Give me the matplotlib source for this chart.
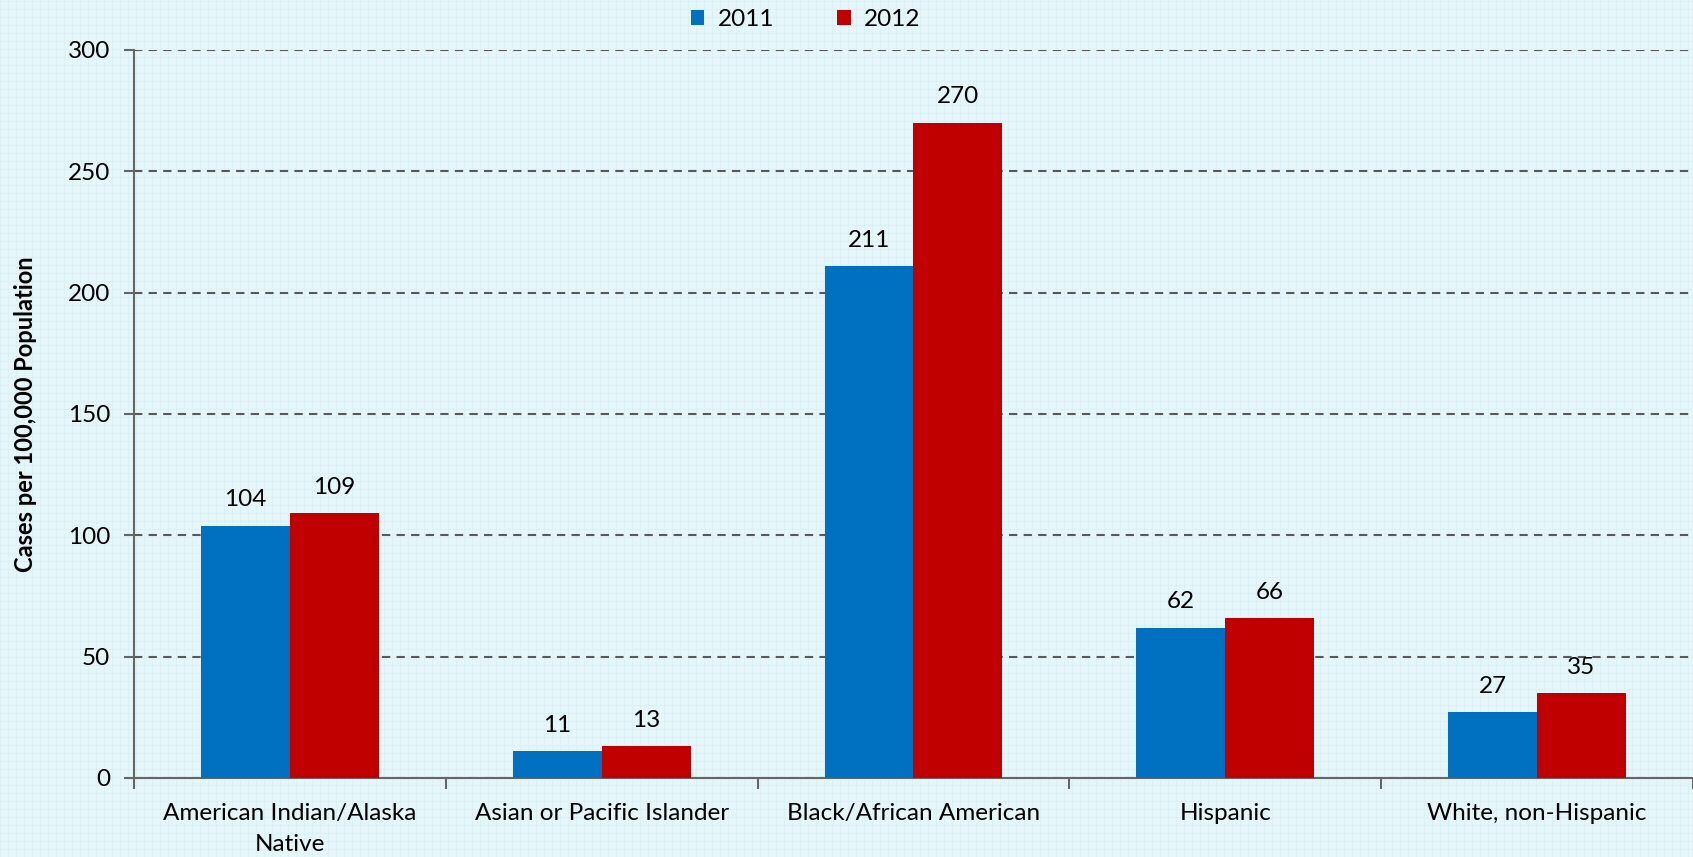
import numpy as np
import matplotlib
matplotlib.use("Agg")
import matplotlib.pyplot as plt
from matplotlib.lines import Line2D

plt.rcParams['font.family'] = ['Lato', 'DejaVu Sans']

categories = ["American Indian/Alaska\nNative", "Asian or Pacific Islander",
              "Black/African American", "Hispanic", "White, non-Hispanic"]
years = ["2011", "2012"]
values_2011 = [104, 11, 211, 62, 27]
values_2012 = [109, 13, 270, 66, 35]
colors = ["#0070c0", "#c00000"]

bg = "#e4f6fa"
fig = plt.figure(figsize=(16.93, 8.57), dpi=100, facecolor=bg)

# faint graph-paper background
for xv in np.arange(0, 1, 8 / 1693):
    fig.add_artist(Line2D([xv, xv], [0, 1], color="#d9f0f5", lw=0.5, zorder=-5))
for yv in np.arange(0, 1, 8 / 857):
    fig.add_artist(Line2D([0, 1], [yv, yv], color="#d9f0f5", lw=0.5, zorder=-5))

ax = fig.add_axes([0.0791, 0.0922, 0.9209, 0.8495])
ax.set_facecolor("none")

x = np.arange(len(categories))
w = 0.285
for i, (vals, c, lab) in enumerate(zip([values_2011, values_2012], colors, years)):
    xs = x + (i - 0.5) * w
    ax.bar(xs, vals, width=w, color=c, label=lab, zorder=3)
    for xi, v in zip(xs, vals):
        ax.annotate(str(v), (xi, v), xytext=(0, 11), textcoords="offset points",
                    ha="center", va="bottom", fontsize=17.5, color="black")

ax.set_xlim(-0.5, len(categories) - 0.5)
ax.set_ylim(0, 300)
ax.set_yticks(np.arange(0, 301, 50))
ax.yaxis.grid(True, linestyle=(0, (4, 3)), color="#595959", lw=1.5, zorder=0)
ax.set_axisbelow(True)

ax.set_xticks(x)
ax.set_xticklabels(categories, fontsize=17.5, linespacing=1.6)
ax.set_xticks(np.arange(-0.5, len(categories)), minor=True)
ax.tick_params(axis="x", which="major", length=0, pad=18)
ax.tick_params(axis="x", which="minor", length=8, width=1.5, color="#666666", direction="out")
ax.tick_params(axis="y", length=7, width=1.5, color="#666666", labelsize=17.5, pad=10)

for s in ["top", "right"]:
    ax.spines[s].set_visible(False)
for s in ["left", "bottom"]:
    ax.spines[s].set_color("#666666")
    ax.spines[s].set_linewidth(1.5)

ax.set_ylabel("Cases per 100,000 Population", fontsize=17, fontweight="bold", labelpad=22)

fig.legend(loc="center", bbox_to_anchor=(0.476, 0.977), ncol=2, frameon=False,
           fontsize=17.5, handlelength=0.55, handleheight=0.55, columnspacing=2.6,
           handletextpad=0.55)

fig.savefig("out.png", dpi=100, facecolor=bg)
